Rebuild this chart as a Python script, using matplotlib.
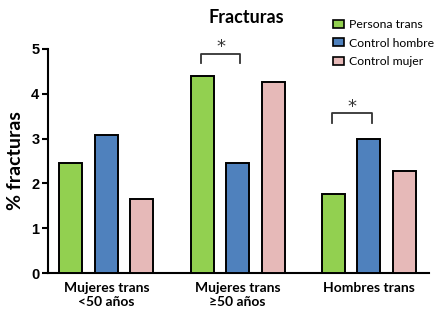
import numpy as np
import matplotlib.pyplot as plt
from matplotlib.patches import Patch

# data
groups = ['Mujeres trans\n<50 años', 'Mujeres trans\n≥50 años', 'Hombres trans']
series = ['Persona trans', 'Control hombre', 'Control mujer']
persona_trans = [2.46, 4.39, 1.77]
control_hombre = [3.08, 2.46, 2.98]
control_mujer = [1.66, 4.26, 2.27]
colors = ['#92d050', '#4f81bd', '#e6b9b8']

# significance brackets: (group, bar_a, bar_b, height)
sig = [(1, 0, 1, 4.89), (2, 0, 1, 3.57)]

fig = plt.figure(figsize=(4.47, 3.22), dpi=100)
ax = fig.add_axes([0.107, 0.151, 0.853, 0.698])

gap = 3.7
width = 0.65
base = np.arange(len(groups)) * gap
for i, (vals, col) in enumerate(zip([persona_trans, control_hombre, control_mujer], colors)):
    ax.bar(base + i, vals, width=width, color=col, edgecolor='black', linewidth=1.4, zorder=3)

for g, a, b, h in sig:
    x1, x2 = base[g] + a - 0.03, base[g] + b + 0.08
    ax.plot([x1, x1, x2, x2], [h - 0.22, h, h, h - 0.22], color='#333333', lw=1.3, clip_on=False)
    ax.text((x1 + x2) / 2, h - 0.06, '*', ha='center', va='bottom', fontsize=13, color='#333333')

ax.set_ylim(0, 5)
ax.set_xlim(-0.65, base[-1] + 2.7)
ax.set_yticks([0, 1, 2, 3, 4, 5])
ax.set_xticks(base + 1)
ax.set_xticklabels(groups, fontsize=10, fontweight='bold', family='Lato', linespacing=1.2)
ax.tick_params(axis='x', length=0, pad=6)
ax.tick_params(axis='y', length=4, width=1.5, pad=2)
for lab in ax.get_yticklabels():
    lab.set_fontweight('bold')
    lab.set_fontsize(10.5)
    lab.set_family('Liberation Sans')
for s in ['top', 'right']:
    ax.spines[s].set_visible(False)
ax.spines['left'].set_linewidth(1.5)
ax.spines['bottom'].set_linewidth(1.5)
ax.set_ylabel('% fracturas', fontsize=14, fontweight='bold', family='Lato', labelpad=5)

fig.text(0.55, 0.945, 'Fracturas', ha='center', va='center', fontsize=13, fontweight='bold', family='Lato')

handles = [Patch(facecolor=c, edgecolor='black', linewidth=1.2) for c in colors]
fig.legend(handles, series, loc='upper left', bbox_to_anchor=(0.745, 0.94), frameon=False,
           borderpad=0, borderaxespad=0, handlelength=0.9, handleheight=0.6, handletextpad=0.4,
           labelspacing=0.6, prop={'family': 'Lato', 'size': 8.8})

fig.savefig('out.png', dpi=100)
